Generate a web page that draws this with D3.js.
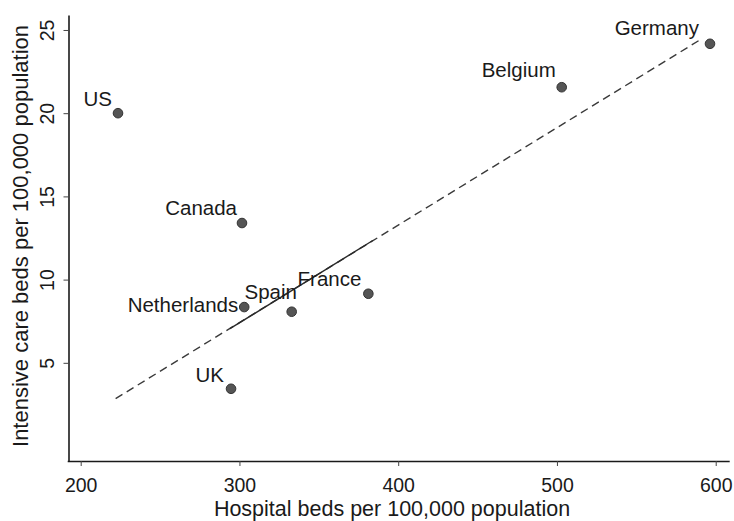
<!DOCTYPE html>
<html>
<head>
<meta charset="utf-8">
<script src="https://cdn.jsdelivr.net/npm/d3@7"></script>
<style>
  html, body { margin: 0; padding: 0; background: #fff; }
  svg { display: block; }
  text { font-family: "Liberation Sans", Arial, Helvetica, sans-serif; fill: #1a1a1a; }
</style>
</head>
<body>
<svg id="chart" width="734" height="521"></svg>
<script>
// Countries and their bed counts per 100,000 population
const countries   = ["US", "Canada", "Netherlands", "Spain", "France", "UK", "Belgium", "Germany"];
const hospitalBeds = [223.5, 301.6, 303, 332.9, 381.2, 294.7, 503, 596.4];
const icuBeds      = [20.0, 13.4, 8.35, 8.07, 9.15, 3.44, 21.56, 24.17];

// Fitted line (end points) and the stretch of it printed solid
const fitHospital = [222, 590];
const fitIcu      = [2.85, 24.4];
const solidHospital = [294, 384];
const solidIcu      = [7.05, 12.35];

// Axis ticks
const xTicks = [200, 300, 400, 500, 600];
const yTicks = [5, 10, 15, 20, 25];

// Axis extents
const xExtent = [191.5, 608.5];
const yExtent = [-0.9, 25.9];

// Label placement per country: anchor and offset from the marker
const labelPlacement = {
  "US":          { anchor: "end",    dx: -6,  dy: -7 },
  "Canada":      { anchor: "end",    dx: -5,  dy: -8 },
  "Netherlands": { anchor: "end",    dx: -6,  dy: 5 },
  "Spain":       { anchor: "middle", dx: -21, dy: -13 },
  "France":      { anchor: "end",    dx: -7,  dy: -8 },
  "UK":          { anchor: "end",    dx: -7,  dy: -7 },
  "Belgium":     { anchor: "end",    dx: -6,  dy: -10 },
  "Germany":     { anchor: "end",    dx: -11, dy: -9 }
};

const svg = d3.select("#chart");

const x = d3.scaleLinear().domain(xExtent).range([67.2, 729.2]);
const y = d3.scaleLinear().domain(yExtent).range([461, 15]);

const axisX = 68.5;
const axisY = 461;

// X axis
const gx = svg.append("g")
  .attr("transform", `translate(0,${axisY})`)
  .call(d3.axisBottom(x).tickValues(xTicks).tickSize(5).tickSizeOuter(0).tickFormat(d3.format("d")));
gx.select(".domain").attr("stroke", "#1a1a1a").attr("stroke-width", 1.6);
gx.selectAll(".tick line").attr("stroke", "#444").attr("stroke-width", 1);
gx.selectAll(".tick text")
  .attr("y", 30.5).attr("dy", 0)
  .style("font-size", "19.5px")
  .attr("fill", "#1a1a1a");

// Y axis, tick labels turned to run upward
const gy = svg.append("g")
  .attr("transform", `translate(${axisX},0)`)
  .call(d3.axisLeft(y).tickValues(yTicks).tickSize(5).tickSizeOuter(0).tickFormat(d3.format("d")));
gy.select(".domain").attr("stroke", "#1a1a1a").attr("stroke-width", 1.6);
gy.selectAll(".tick line").attr("stroke", "#444").attr("stroke-width", 1);
gy.selectAll(".tick text")
  .attr("transform", "rotate(-90)")
  .attr("x", 0).attr("y", -14.5).attr("dy", 0)
  .attr("text-anchor", "middle")
  .style("font-size", "19.5px")
  .attr("fill", "#1a1a1a");

// Axis titles
svg.append("text")
  .attr("x", 392).attr("y", 516)
  .attr("text-anchor", "middle")
  .style("font-size", "21.5px")
  .text("Hospital beds per 100,000 population");

svg.append("text")
  .attr("transform", `translate(28,236) rotate(-90)`)
  .attr("text-anchor", "middle")
  .style("font-size", "22px")
  .text("Intensive care beds per 100,000 population");

// Fitted line, dashed, with its solid middle stretch
const fitLine = d3.line().x(d => x(d[0])).y(d => y(d[1]));
svg.append("path")
  .datum(d3.zip(fitHospital, fitIcu))
  .attr("d", fitLine)
  .attr("fill", "none")
  .attr("stroke", "#3a3a3a")
  .attr("stroke-width", 1.4)
  .attr("stroke-dasharray", "8,5");

svg.append("path")
  .datum(d3.zip(solidHospital, solidIcu))
  .attr("d", fitLine)
  .attr("fill", "none")
  .attr("stroke", "#2a2a2a")
  .attr("stroke-width", 1.4);

// Points
const points = countries.map((c, i) => ({ name: c, hx: hospitalBeds[i], iy: icuBeds[i] }));

svg.append("g").selectAll("circle")
  .data(points)
  .join("circle")
  .attr("cx", d => x(d.hx))
  .attr("cy", d => y(d.iy))
  .attr("r", 4.8)
  .attr("fill", "#555")
  .attr("stroke", "#333")
  .attr("stroke-width", 1);

// Country labels
svg.append("g").selectAll("text")
  .data(points)
  .join("text")
  .attr("x", d => x(d.hx) + labelPlacement[d.name].dx)
  .attr("y", d => y(d.iy) + labelPlacement[d.name].dy)
  .attr("text-anchor", d => labelPlacement[d.name].anchor)
  .style("font-size", "20.5px")
  .text(d => d.name);
</script>
</body>
</html>
